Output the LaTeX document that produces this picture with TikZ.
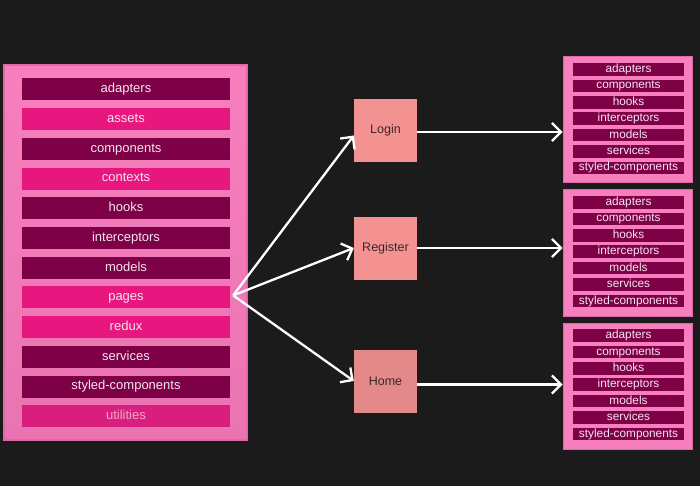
\documentclass[tikz,border=0pt]{standalone}
\usepackage{fontspec}
\setmainfont{Liberation Sans}
\usetikzlibrary{arrows.meta,calc}
\definecolor{bg}{HTML}{1B1B1B}
\definecolor{panelfill}{HTML}{F77FBE}
\definecolor{panelfillb}{HTML}{EA74B2}
\definecolor{panelborder}{HTML}{E068A6}
\definecolor{darkbar}{HTML}{7E0047}
\definecolor{brightbar}{HTML}{E8167F}
\definecolor{utilbar}{HTML}{D91F7D}
\definecolor{bartext}{HTML}{F5E6EE}
\definecolor{utiltext}{HTML}{F4A6CF}
\definecolor{pagebox}{HTML}{F49292}
\definecolor{homebox}{HTML}{E48989}
\definecolor{pagetext}{HTML}{3A2828}
\begin{document}
\begin{tikzpicture}[x=1pt,y=-1pt,
  bigpanel/.style={draw=panelborder,line width=1.5pt,top color=panelfill,bottom color=panelfillb,
    minimum width=243pt,minimum height=375pt,inner sep=0pt},
  smallpanel/.style={draw=panelborder,line width=1pt,fill=panelfill,
    minimum width=129pt,minimum height=126pt,inner sep=0pt},
  barbase/.style={inner sep=0pt,minimum width=208pt,minimum height=22pt,
    font=\fontsize{13}{13}\selectfont,text height=9.5pt,text depth=2.8pt},
  bardk/.style={barbase,fill=darkbar,text=bartext},
  barbr/.style={barbase,fill=brightbar,text=bartext},
  barut/.style={barbase,fill=utilbar,text=utiltext},
  sbar/.style={inner sep=0pt,minimum width=111pt,minimum height=12.5pt,fill=darkbar,text=bartext,
    font=\fontsize{11.8}{11.8}\selectfont,text height=8.8pt,text depth=2.6pt},
  pagenode/.style={fill=pagebox,text=pagetext,minimum width=63pt,minimum height=63pt,inner sep=0pt,
    font=\fontsize{12.5}{12.5}\selectfont},
  arr/.style={draw=white,line width=2.3pt,-{Straight Barb[length=9pt,width=18pt]}}
]
\useasboundingbox (0,0) rectangle (700,486);
\fill[bg] (0,0) rectangle (700,486);

% left panel
\node[bigpanel] (left) at (125.5,252.5) {};
\foreach \t/\s [count=\i] in {adapters/dk,assets/br,components/dk,contexts/br,hooks/dk,interceptors/dk,models/dk,pages/br,redux/br,services/dk,styled-components/dk,utilities/ut}
  \node[bar\s] (L\i) at (126,{89.5+(\i-1)*29.7}) {\t};

% page nodes
\node[pagenode] (login) at (385.5,130.5) {Login};
\node[pagenode] (register) at (385.5,248) {Register};
\node[pagenode,fill=homebox] (home) at (385.5,381) {Home};

% right panels
\foreach \b/\y in {1/57,2/190,3/323}{
  \node[smallpanel] (R\b) at (627.5,{\y+63}) {};
  \foreach \t [count=\i] in {adapters,components,hooks,interceptors,models,services,styled-components}
    \node[sbar] (R\b-\i) at (628.5,{\y+12.5+(\i-1)*16.4}) {\t};
}

% connectors
\coordinate (src) at ($(L8.east)+(3,-2)$);
\draw[arr] (src) -- ([yshift=-5pt]login.west);
\draw[arr] (src) -- (register.west);
\draw[arr] (src) -- (home.west);
\draw[arr] ([yshift=-1.5pt]login.east) -- ([yshift=-1.5pt]login.east -| R1.west);
\draw[arr] (register.east) -- (register.east -| R2.west);
\draw[arr] ([yshift=-3.5pt]home.east) -- ([yshift=-3.5pt]home.east -| R3.west);
\end{tikzpicture}
\end{document}
